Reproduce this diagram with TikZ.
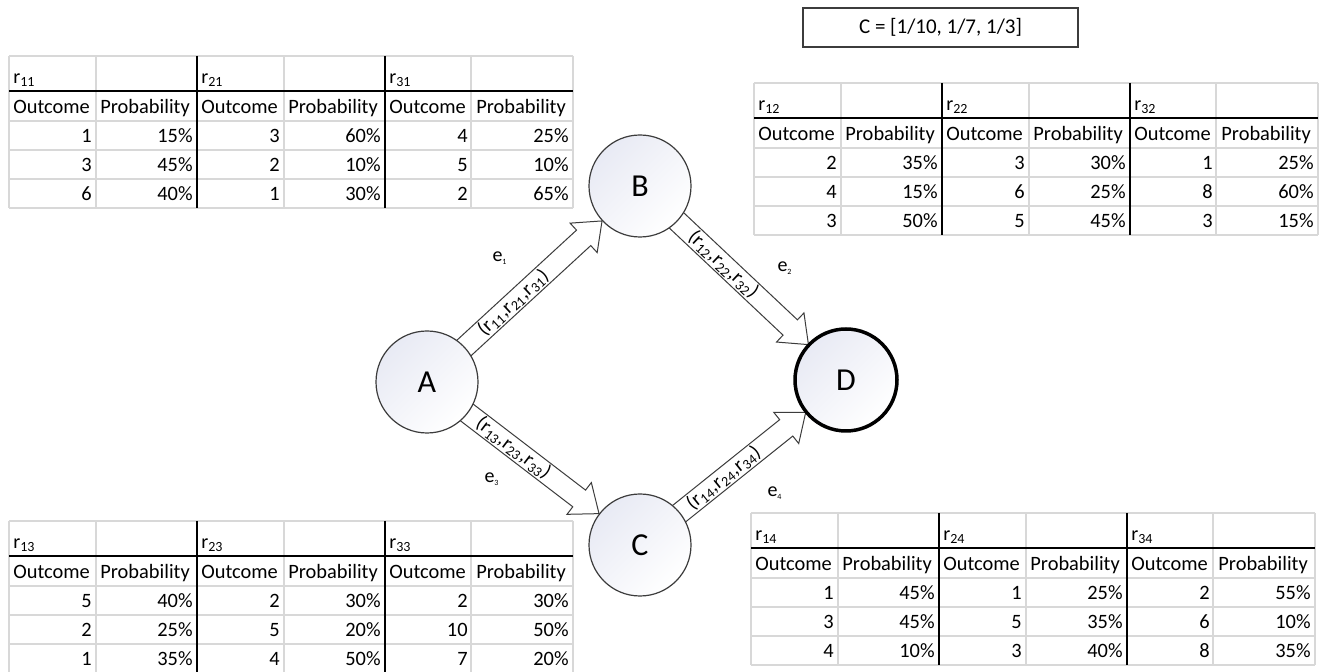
\documentclass[tikz,border=0pt]{standalone}
\usepackage{fontspec}
\setmainfont{Carlito}
\usetikzlibrary{calc,backgrounds}

\definecolor{gridgray}{RGB}{216,216,216}
\definecolor{circfill}{RGB}{232,234,244}
\definecolor{rimgray}{RGB}{60,60,60}

\tikzset{
  gridline/.style={gridgray,line width=0.6pt},
  ruleline/.style={black,line width=0.9pt},
  titlecell/.style={anchor=base west,inner sep=0pt,font=\fontsize{10}{12}\selectfont},
  headcell/.style={anchor=base west,inner sep=0pt,font=\fontsize{10.2}{12}\selectfont},
  numcell/.style={anchor=base east,inner sep=0pt,font=\fontsize{10.2}{12}\selectfont},
}

% one block of three outcome/probability tables
\newcommand{\probtable}[4]{%
  \begin{scope}[shift={(#1,#2)}]
    \foreach \cx in {0,87,188,275,376,462,564}
      \draw[gridline] (\cx,0) -- (\cx,152);
    \foreach \ry in {0,35,65,94,123,152}
      \draw[gridline] (0,\ry) -- (564,\ry);
    \draw[ruleline] (0,35) -- (564,35);
    \foreach \cx in {188,376}
      \draw[ruleline] (\cx,0) -- (\cx,152);
    \foreach \k/\cx in {1/0,2/188,3/376} {
      \node[titlecell] (t#3-r\k) at (\cx+4,28) {r\textsubscript{\k#3}};
      \node[headcell] (t#3-o\k) at (\cx+4,58) {Outcome};
      \node[headcell] (t#3-p\k) at (\cx+91,58) {Probability};
    }
    \foreach \oa/\pa/\ob/\pb/\oc/\pc [count=\i] in {#4} {
      \node[numcell] (t#3-a\i) at (83,58+29*\i) {\oa};
      \node[numcell] (t#3-b\i) at (184,58+29*\i) {\pa\%};
      \node[numcell] (t#3-c\i) at (271,58+29*\i) {\ob};
      \node[numcell] (t#3-d\i) at (372,58+29*\i) {\pb\%};
      \node[numcell] (t#3-e\i) at (459,58+29*\i) {\oc};
      \node[numcell] (t#3-f\i) at (560,58+29*\i) {\pc\%};
    }
  \end{scope}}

\begin{document}
\begin{tikzpicture}
[x=0.5pt,y=-0.5pt,
 stateDecorate/.style={shape=circle,draw=rimgray,line width=0.6pt,minimum size=51pt,
   inner sep=0pt,top color=circfill,bottom color=white,shading angle=45,
   font=\fontsize{16}{18}\selectfont},
 arrowDecorate/.style={draw=rimgray,fill=white,line width=0.5pt,line join=miter},
 edgeLabel/.style={sloped,inner sep=0pt,font=\fontsize{10}{11}\selectfont},
 edgeName/.style={inner sep=0pt,font=\fontsize{10}{12}\selectfont},
 costBox/.style={draw=rimgray,line width=0.8pt,minimum width=137.5pt,
   minimum height=19.5pt,font=\fontsize{10.5}{12}\selectfont}]
\useasboundingbox (0,0) rectangle (1328,672);

%% states
\foreach \nodename/\x/\y in {A/427/382, B/640/186, C/640/545} {
  \node (\nodename) at (\x,\y) [stateDecorate] {\nodename};
}
\node (D) at (846,380) [stateDecorate,draw=black,line width=1.75pt] {D};

%% block arrows between states
\begin{pgfonlayer}{background}
\fill[white] (0,0) rectangle (1328,672);
\foreach \from/\to/\j in {A/B/1, B/D/2, A/C/3, C/D/4} {
  \coordinate (s) at ($(\from.center)!20pt!(\to.center)$);
  \coordinate (t) at ($(\to.center)!25.8pt!(\from.center)$);
  \coordinate (n) at ($(t)!12.5pt!(s)$);
  \draw[arrowDecorate] ($(s)!5.25pt!90:(t)$) -- ($(n)!5.25pt!90:(t)$)
    -- ($(n)!10pt!90:(t)$) -- (t) -- ($(n)!10pt!-90:(t)$)
    -- ($(n)!5.25pt!-90:(t)$) -- ($(s)!5.25pt!-90:(t)$) -- cycle;
  \path (s) -- (t) node[edgeLabel,pos=.39] (lab\j)
    {(r\textsubscript{1\j},r\textsubscript{2\j},r\textsubscript{3\j})};
}
\end{pgfonlayer}

%% edge names
\foreach \j/\x/\y in {1/500/258, 2/785/268, 3/492/479, 4/775/493} {
  \node[edgeName] (e\j) at (\x,\y) {e\textsubscript{\fontsize{4}{5}\selectfont\j}};
}

%% cost vector
\node[costBox] (cost) at (940.5,27.5) {C = [1/10, 1/7, 1/3]};

%% tables
\probtable{9}{56}{1}{1/15/3/60/4/25, 3/45/2/10/5/10, 6/40/1/30/2/65}
\probtable{754}{83}{2}{2/35/3/30/1/25, 4/15/6/25/8/60, 3/50/5/45/3/15}
\probtable{9}{521}{3}{5/40/2/30/2/30, 2/25/5/20/10/50, 1/35/4/50/7/20}
\probtable{751}{513}{4}{1/45/1/25/2/55, 3/45/5/35/6/10, 4/10/3/40/8/35}
\end{tikzpicture}
\end{document}
